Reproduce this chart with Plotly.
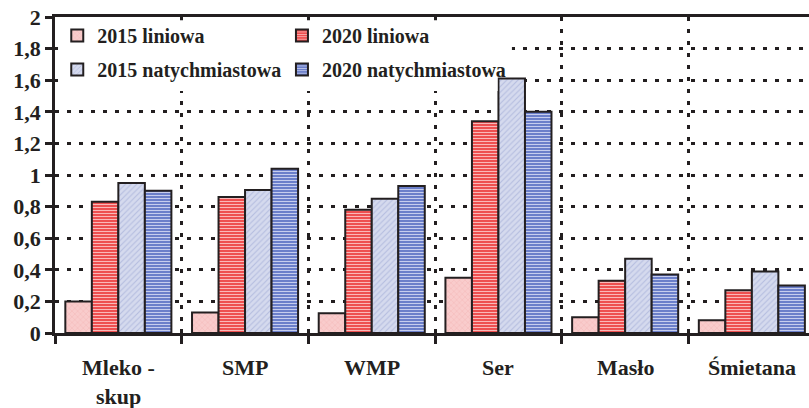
import plotly.graph_objects as go

# Categories (product groups) and the four scenario series
categories = ["Mleko -<br>skup", "SMP", "WMP", "Ser", "Masło", "Śmietana"]
series_names = ["2015 liniowa", "2020 liniowa", "2015 natychmiastowa", "2020 natychmiastowa"]
lin_2015 = [0.20, 0.13, 0.125, 0.35, 0.10, 0.08]
lin_2020 = [0.83, 0.86, 0.78, 1.34, 0.33, 0.27]
nat_2015 = [0.95, 0.905, 0.85, 1.61, 0.47, 0.39]
nat_2020 = [0.90, 1.04, 0.93, 1.40, 0.37, 0.30]

y_tick_vals = [0, 0.2, 0.4, 0.6, 0.8, 1.0, 1.2, 1.4, 1.6, 1.8, 2.0]
y_tick_text = ["0", "0,2", "0,4", "0,6", "0,8", "1", "1,2", "1,4", "1,6", "1,8", "2"]

INK = "#231f20"
SERIF = "Liberation Serif"

styles = [
    dict(bg="#f9cccc", fg="#f1a9a9", shape="x", size=4, solidity=0.15, legend="legend"),
    dict(bg="#ee5050", fg="#fab8b8", shape="-", size=3, solidity=0.35, legend="legend2"),
    dict(bg="#d5daee", fg="#b4bcdf", shape="/", size=4, solidity=0.25, legend="legend"),
    dict(bg="#6b7fca", fg="#c6cdee", shape="-", size=3, solidity=0.35, legend="legend2"),
]
values = [lin_2015, lin_2020, nat_2015, nat_2020]

fig = go.Figure()
for name, vals, st in zip(series_names, values, styles):
    fig.add_trace(go.Bar(
        x=categories, y=vals, name=f"<b>{name}</b>",
        legend=st["legend"], legendgroup=name,
        marker=dict(
            color=st["bg"],
            line=dict(color=INK, width=2),
            pattern=dict(shape=st["shape"], fgcolor=st["fg"], bgcolor=st["bg"],
                         size=st["size"], solidity=st["solidity"], fillmode="replace"),
        ),
    ))

# Category labels below the axis, with generous line spacing
for cat in categories:
    for i, line in enumerate(cat.split("<br>")):
        fig.add_annotation(
            x=cat, xref="x", y=0, yref="paper", yanchor="middle",
            yshift=-34 - 29 * i, text=f"<b>{line}</b>", showarrow=False,
            font=dict(family=SERIF, size=22, color=INK),
        )

# White panels under the legend that hide the gridlines there
# (stepped so the tallest bar stays uncovered)
fig.add_shape(type="rect", xref="paper", yref="paper",
              x0=0.004, x1=0.606, y0=0.817, y1=0.99,
              fillcolor="white", line=dict(width=0), layer="above")
fig.add_shape(type="rect", xref="paper", yref="paper",
              x0=0.004, x1=0.587, y0=0.766, y1=0.817,
              fillcolor="white", line=dict(width=0), layer="above")

legend_font = dict(family=SERIF, size=20, color=INK)
fig.update_layout(
    width=809, height=408,
    margin=dict(l=55, r=0, t=17, b=75),
    paper_bgcolor="white", plot_bgcolor="white",
    barmode="group", bargap=0.163, bargroupgap=0.0,
    showlegend=True,
    legend=dict(x=0.003, y=1.003, xanchor="left", yanchor="top",
                bgcolor="rgba(0,0,0,0)", font=legend_font,
                tracegroupgap=5, orientation="v"),
    legend2=dict(x=0.301, y=1.003, xanchor="left", yanchor="top",
                 bgcolor="rgba(0,0,0,0)", font=legend_font,
                 tracegroupgap=5, orientation="v"),
    xaxis=dict(
        type="category", range=[-0.5, 5.451], tickson="boundaries",
        ticks="outside", ticklen=8, tickwidth=2.5, tickcolor=INK,
        showticklabels=False,
        showline=True, linecolor=INK, linewidth=2.5, mirror=True,
        showgrid=True, gridcolor=INK, gridwidth=2.5, griddash="4px,8px",
    ),
    yaxis=dict(
        range=[0, 2], tickvals=y_tick_vals,
        ticktext=[f"<b>{t}</b>" for t in y_tick_text],
        ticks="outside", ticklen=7, tickwidth=2.5, tickcolor=INK,
        tickfont=dict(family=SERIF, size=22, color=INK),
        showline=True, linecolor=INK, linewidth=2.5,
        showgrid=True, gridcolor=INK, gridwidth=2.5, griddash="4px,8px",
        zeroline=False,
    ),
)

fig.write_html("out.html")
